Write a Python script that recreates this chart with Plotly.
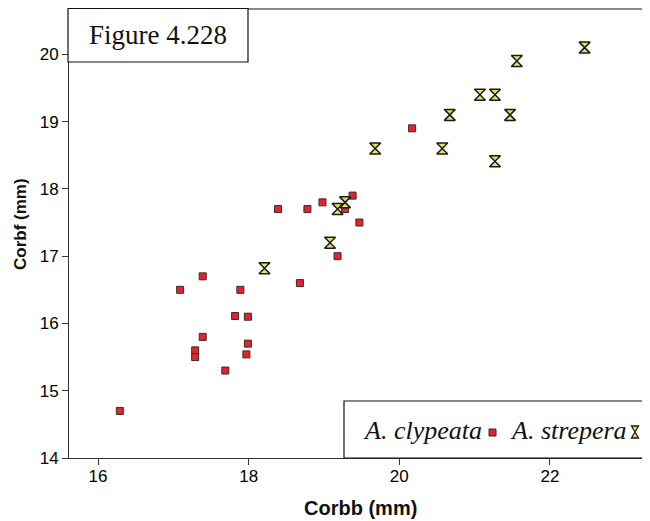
import plotly.graph_objects as go

# ---- data ----
clypeata_corbb = [16.29, 17.09, 17.39, 17.29, 17.29, 17.39, 17.69, 17.82, 17.89, 17.99,
                  17.99, 17.97, 18.39, 18.68, 18.78, 18.98, 19.18, 19.28, 19.38, 19.47, 20.17]
clypeata_corbf = [14.70, 16.50, 16.70, 15.60, 15.50, 15.80, 15.30, 16.11, 16.50, 16.10,
                  15.70, 15.54, 17.70, 16.60, 17.70, 17.80, 17.00, 17.70, 17.90, 17.50, 18.90]

strepera_corbb = [18.21, 19.08, 19.18, 19.28, 19.68, 20.57, 20.67, 21.07, 21.27, 21.47,
                  21.27, 21.56, 22.46]
strepera_corbf = [16.82, 17.20, 17.70, 17.80, 18.60, 18.60, 19.10, 19.40, 19.40, 19.10,
                  18.41, 19.90, 20.10]

x_ticks = [16, 18, 20, 22]
y_ticks = [14, 15, 16, 17, 18, 19, 20]

series_names = ["A. clypeata", "A. strepera"]
figure_label = "Figure 4.228"
x_title = "Corbb (mm)"
y_title = "Corbf (mm)"

# ---- layout geometry (page body has an 8px margin) ----
OFF = 8
W, H = 650 - OFF, 521 - OFF
L, R, T, B = 61, 0, 1, 63
PW, PH = W - L - R, H - T - B


def fx(p):
    """window pixel x -> paper fraction"""
    return (p - OFF - L) / PW


def fy(p):
    """window pixel y -> paper fraction"""
    return (H - B - (p - OFF)) / PH


fig = go.Figure()
fig.add_trace(go.Scatter(
    x=clypeata_corbb, y=clypeata_corbf, mode="markers", name=series_names[0],
    marker=dict(symbol="square", size=7, color="#e3242b",
                line=dict(color="#3a2a2a", width=1)),
))
fig.add_trace(go.Scatter(
    x=strepera_corbb, y=strepera_corbf, mode="markers", name=series_names[1],
    marker=dict(symbol="hourglass", size=11, color="#e6e45a",
                line=dict(color="#1a1a1a", width=1.5)),
))

axis_common = dict(
    showgrid=False, zeroline=False, showline=True, linecolor="#333333", linewidth=1,
    ticks="outside", ticklen=6, tickcolor="#333333", tickwidth=1,
    tickfont=dict(family="Liberation Sans, Arial", size=17, color="#000000"),
    mirror=False,
)
fig.update_xaxes(range=[15.615, 23.328], tickvals=x_ticks, ticklabelstandoff=-3, **axis_common)
fig.update_yaxes(range=[14, 20.674], tickvals=y_ticks, **axis_common)

shapes = [
    # top frame line
    dict(type="line", xref="paper", yref="paper", x0=0, x1=1, y0=1, y1=1,
         line=dict(color="#8a8a8a", width=2)),
    # figure label box
    dict(type="rect", xref="paper", yref="paper", x0=fx(68), x1=fx(248), y0=fy(62), y1=fy(8.5),
         line=dict(color="#111111", width=1.2), fillcolor="white"),
    # legend box
    dict(type="rect", xref="paper", yref="paper", x0=fx(344), x1=fx(649), y0=fy(458), y1=fy(401),
         line=dict(color="#111111", width=1.2), fillcolor="white"),
    # legend square symbol
    dict(type="rect", xref="paper", yref="paper", x0=fx(489), x1=fx(496), y0=fy(436), y1=fy(429),
         line=dict(color="#3a2a2a", width=1), fillcolor="#e3242b"),
]
cx, cy = 635, 432
hx, hy = 3.5, 6
hp = "M {a},{b} L {c},{b} L {a},{d} L {c},{d} Z".format(
    a=fx(cx - hx), c=fx(cx + hx), b=fy(cy - hy), d=fy(cy + hy))
shapes.append(dict(type="path", xref="paper", yref="paper", path=hp,
                   line=dict(color="#1a1a1a", width=1.3), fillcolor="#e6e45a"))

serif = "Liberation Serif, Times New Roman"
sans = "Liberation Sans, Arial"
annotations = [
    dict(text=figure_label, xref="paper", yref="paper", x=fx(158), y=fy(35),
         showarrow=False, xanchor="center", yanchor="middle",
         font=dict(family=serif, size=27, color="#111111")),
    dict(text="<i>" + series_names[0] + "</i>", xref="paper", yref="paper", x=fx(361), y=fy(430),
         showarrow=False, xanchor="left", yanchor="middle",
         font=dict(family=serif, size=26, color="#111111")),
    dict(text="<i>" + series_names[1] + "</i>", xref="paper", yref="paper", x=fx(508), y=fy(430),
         showarrow=False, xanchor="left", yanchor="middle",
         font=dict(family=serif, size=26, color="#111111")),
    dict(text="<b>" + x_title + "</b>", xref="paper", yref="paper", x=fx(360), y=fy(508),
         showarrow=False, xanchor="center", yanchor="middle",
         font=dict(family=sans, size=20, color="#111111")),
    dict(text="<b>" + y_title + "</b>", xref="paper", yref="paper", x=fx(20), y=fy(224),
         showarrow=False, xanchor="center", yanchor="middle", textangle=-90,
         font=dict(family=sans, size=17, color="#111111")),
]

fig.update_layout(
    width=W, height=H,
    margin=dict(l=L, r=R, t=T, b=B, pad=0),
    paper_bgcolor="white", plot_bgcolor="white",
    showlegend=False,
    shapes=shapes, annotations=annotations,
)

fig.write_html("out.html")
